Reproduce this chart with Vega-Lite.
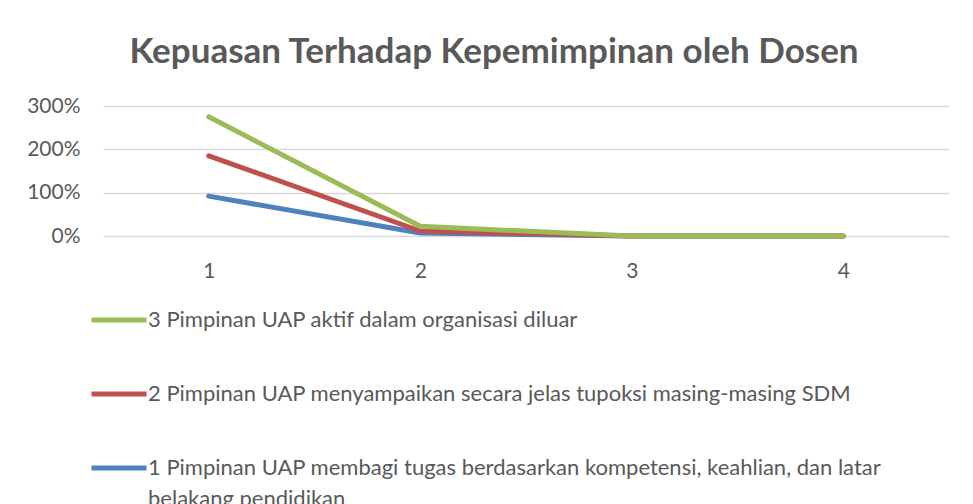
{
  "$schema": "https://vega.github.io/schema/vega-lite/v6.json",
  "width": 846,
  "height": 130,
  "autosize": {"type": "none"},
  "padding": {"left": 103, "top": 106, "right": 24, "bottom": 268},
  "background": "white",
  "config": {
    "view": {"stroke": null},
    "font": "Lato",
    "axis": {"labelFont": "Lato", "labelColor": "#595959", "labelFontSize": 21}
  },
  "title": {
    "text": "Kepuasan Terhadap Kepemimpinan oleh Dosen",
    "font": "Lato",
    "fontSize": 35,
    "fontWeight": "bold",
    "color": "#595959",
    "anchor": "middle",
    "dx": -32,
    "baseline": "alphabetic",
    "offset": -3
  },
  "data": {
    "values": [
      {"x": "1", "series": "1 Pimpinan UAP membagi tugas berdasarkan kompetensi, keahlian, dan latar belakang pendidikan", "v": 0.92},
      {"x": "2", "series": "1 Pimpinan UAP membagi tugas berdasarkan kompetensi, keahlian, dan latar belakang pendidikan", "v": 0.07},
      {"x": "3", "series": "1 Pimpinan UAP membagi tugas berdasarkan kompetensi, keahlian, dan latar belakang pendidikan", "v": 0.0},
      {"x": "4", "series": "1 Pimpinan UAP membagi tugas berdasarkan kompetensi, keahlian, dan latar belakang pendidikan", "v": 0.0},
      {"x": "1", "series": "2 Pimpinan UAP menyampaikan secara jelas tupoksi masing-masing SDM", "v": 0.93},
      {"x": "2", "series": "2 Pimpinan UAP menyampaikan secara jelas tupoksi masing-masing SDM", "v": 0.045},
      {"x": "3", "series": "2 Pimpinan UAP menyampaikan secara jelas tupoksi masing-masing SDM", "v": 0.0},
      {"x": "4", "series": "2 Pimpinan UAP menyampaikan secara jelas tupoksi masing-masing SDM", "v": 0.0},
      {"x": "1", "series": "3 Pimpinan UAP aktif dalam organisasi diluar", "v": 0.9},
      {"x": "2", "series": "3 Pimpinan UAP aktif dalam organisasi diluar", "v": 0.11},
      {"x": "3", "series": "3 Pimpinan UAP aktif dalam organisasi diluar", "v": 0.0},
      {"x": "4", "series": "3 Pimpinan UAP aktif dalam organisasi diluar", "v": 0.0}
    ]
  },
  "transform": [
    {"stack": "v", "groupby": ["x"], "sort": [{"field": "series", "order": "ascending"}], "as": ["v0", "v1"]}
  ],
  "mark": {"type": "line", "strokeWidth": 5, "strokeCap": "round", "strokeJoin": "round"},
  "encoding": {
    "x": {
      "field": "x",
      "type": "ordinal",
      "scale": {"type": "point", "padding": 0.5},
      "axis": {"title": null, "labelAngle": 0, "ticks": false, "domain": false, "labelPadding": 24, "grid": false}
    },
    "y": {
      "field": "v1",
      "type": "quantitative",
      "scale": {"domain": [0, 3], "nice": false},
      "axis": {"title": null, "values": [0, 1, 2, 3], "format": ".0%", "ticks": false, "domain": false, "labelPadding": 23, "gridColor": "#D9D9D9", "gridWidth": 1.5}
    },
    "color": {
      "field": "series",
      "type": "nominal",
      "scale": {
        "domain": [
          "3 Pimpinan UAP aktif dalam organisasi diluar",
          "2 Pimpinan UAP menyampaikan secara jelas tupoksi masing-masing SDM",
          "1 Pimpinan UAP membagi tugas berdasarkan kompetensi, keahlian, dan latar belakang pendidikan"
        ],
        "range": ["#9BBB59", "#C0504D", "#4F81BD"]
      },
      "legend": {
        "title": null,
        "orient": "none",
        "legendX": -14,
        "legendY": 184,
        "direction": "vertical",
        "symbolType": "stroke",
        "symbolSize": 3025,
        "symbolStrokeWidth": 5,
        "labelFont": "Lato",
        "labelFontSize": 22,
        "labelColor": "#595959",
        "labelLimit": 0,
        "labelOffset": -1,
        "rowPadding": 33,
        "labelBaseline": "middle",
        "labelExpr": "substring(datum.label, 0, 2) == '1 ' ? ['1 Pimpinan UAP membagi tugas berdasarkan kompetensi, keahlian, dan latar', 'belakang pendidikan'] : datum.label",
        "encode": {"labels": {"update": {"lineHeight": {"value": 31}}}}
      }
    }
  }
}
